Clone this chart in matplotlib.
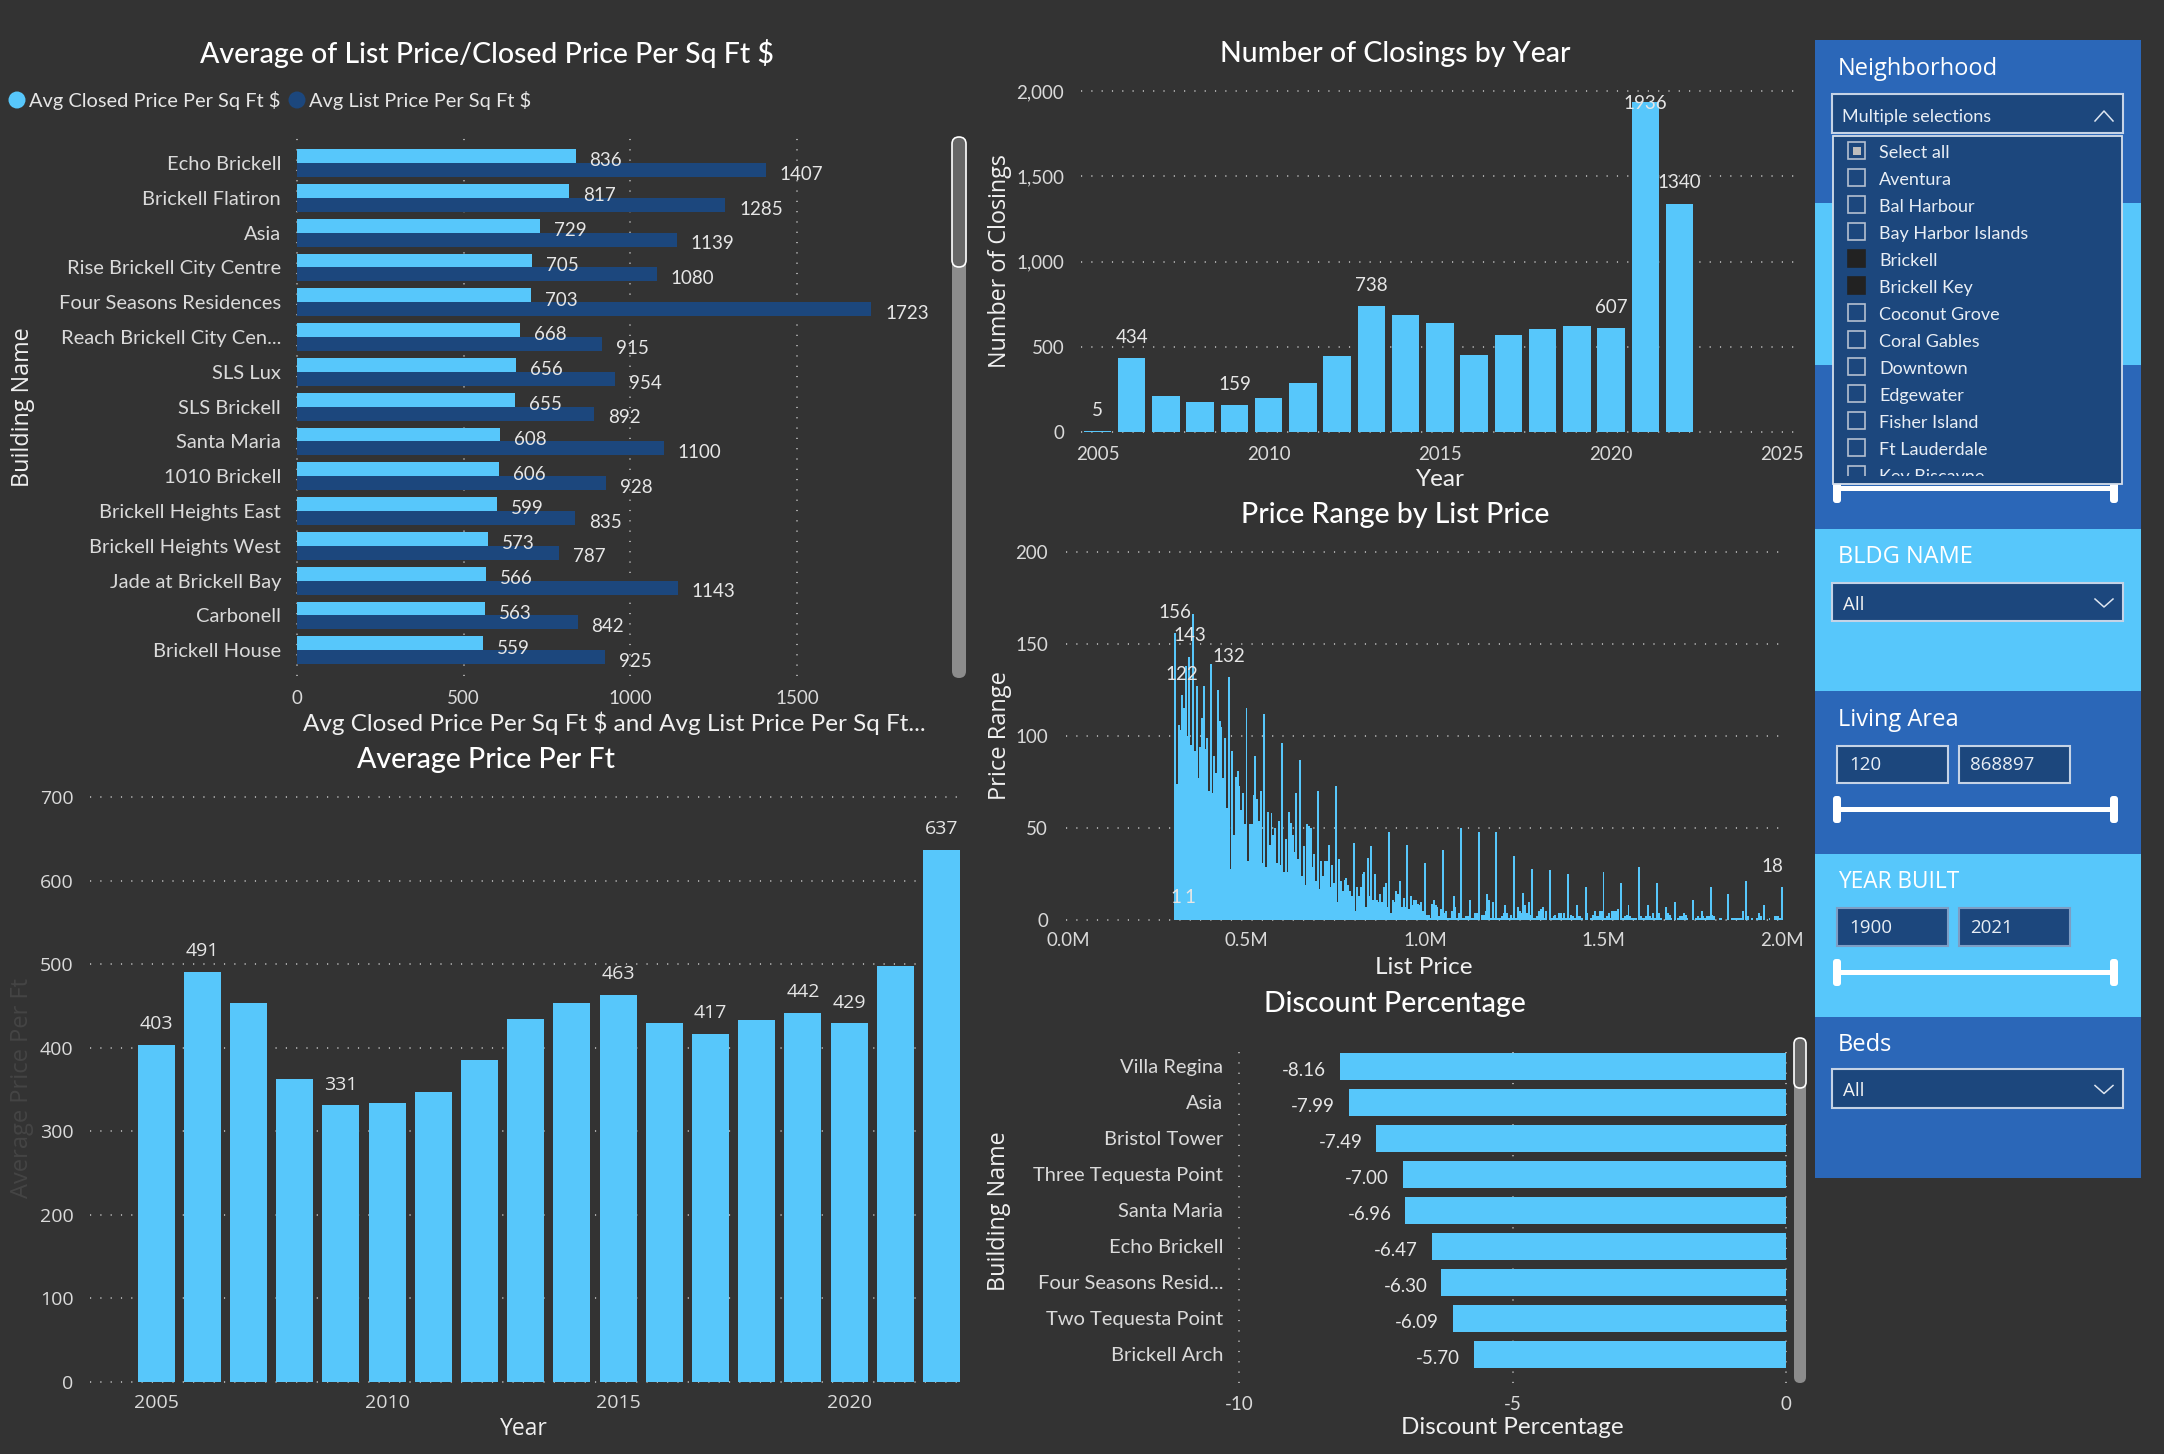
#Real estate dashboard rebuilt with matplotlib
import numpy as np
import matplotlib
matplotlib.use('Agg')
import matplotlib.pyplot as plt
from matplotlib.patches import Rectangle, FancyBboxPatch, Circle

W = 2164
H = 1454

bg = '#333333'
light = '#57C7FB'
navy = '#1C477D'
blue = '#2B67B8'
tickcol = '#DADADA'
labelcol = '#E6E6E6'

#Average of list/closed price per sq ft
buildings = ['Echo Brickell', 'Brickell Flatiron', 'Asia', 'Rise Brickell City Centre',
             'Four Seasons Residences', 'Reach Brickell City Cen...', 'SLS Lux', 'SLS Brickell',
             'Santa Maria', '1010 Brickell', 'Brickell Heights East', 'Brickell Heights West',
             'Jade at Brickell Bay', 'Carbonell', 'Brickell House']
avg_closed = [836, 817, 729, 705, 703, 668, 656, 655, 608, 606, 599, 573, 566, 563, 559]
avg_list = [1407, 1285, 1139, 1080, 1723, 915, 954, 892, 1100, 928, 835, 787, 1143, 842, 925]

#Number of closings by year
years = [2005, 2006, 2007, 2008, 2009, 2010, 2011, 2012, 2013, 2014, 2015, 2016, 2017, 2018, 2019, 2020, 2021, 2022]
closings = [5, 434, 209, 174, 159, 197, 287, 448, 738, 686, 639, 450, 569, 602, 622, 607, 1936, 1340]
closings_labelled = [2005, 2006, 2009, 2013, 2020, 2021, 2022]

#Average price per ft
price_per_ft = [403, 491, 453, 362, 331, 334, 347, 385, 434, 454, 463, 430, 417, 433, 442, 429, 498, 637]
price_labelled = [2005, 2006, 2009, 2015, 2017, 2019, 2020, 2022]

#Price range by list price, one row per 50K, each value a 5K step starting at 300K
hist_counts = [
    156, 74, 106, 103, 122, 115, 138, 100, 143, 95,
    166, 92, 127, 77, 94, 110, 127, 93, 99, 70,
    139, 69, 89, 80, 125, 108, 105, 77, 99, 61,
    132, 28, 92, 46, 78, 81, 73, 60, 69, 52,
    115, 32, 52, 52, 68, 89, 66, 54, 70, 31,
    112, 29, 59, 41, 58, 46, 50, 31, 54, 30,
    96, 26, 44, 26, 59, 53, 46, 37, 69, 33,
    87, 24, 40, 19, 52, 51, 50, 29, 36, 21,
    70, 17, 32, 24, 32, 32, 41, 18, 30, 20,
    73, 10, 33, 21, 16, 22, 23, 19, 16, 13,
    42, 5, 18, 13, 18, 25, 26, 7, 34, 13,
    40, 11, 25, 11, 10, 14, 10, 18, 20, 7,
    48, 4, 11, 10, 16, 14, 21, 7, 12, 7,
    41, 6, 13, 8, 11, 11, 9, 8, 10, 5,
    31, 3, 3, 1, 9, 11, 8, 7, 2, 6,
    38, 4, 5, 1, 1, 5, 13, 7, 1, 4,
    50, 1, 1, 2, 2, 11, 1, 1, 4, 4,
    48, 0, 3, 3, 5, 14, 11, 1, 10, 1,
    48, 1, 1, 2, 4, 8, 4, 1, 3, 1,
    35, 1, 7, 5, 4, 15, 8, 4, 10, 3,
    28, 1, 1, 2, 5, 6, 7, 1, 5, 0,
    27, 1, 2, 3, 1, 4, 4, 1, 4, 1,
    25, 1, 3, 2, 1, 8, 2, 2, 1, 0,
    18, 4, 0, 1, 3, 5, 2, 2, 5, 5,
    26, 1, 2, 4, 1, 5, 5, 5, 6, 0,
    20, 1, 2, 3, 8, 2, 1, 1, 1, 0,
    29, 2, 1, 1, 2, 8, 2, 1, 4, 1,
    20, 4, 1, 0, 0, 7, 4, 3, 1, 0,
    10, 0, 1, 2, 2, 4, 3, 1, 0, 0,
    11, 0, 1, 2, 1, 5, 2, 1, 2, 2,
    18, 3, 2, 0, 0, 1, 1, 0, 0, 0,
    14, 0, 1, 1, 1, 1, 1, 1, 5, 0,
    21, 2, 0, 1, 0, 0, 1, 4, 2, 0,
    8, 0, 0, 1, 0, 0, 2, 2, 2, 1,
    18]
hist_label_prices = [300, 320, 340, 450, 2000, 302, 342]
hist_label_values = [156, 122, 143, 132, 18, 1, 1]

#Discount percentage
discount_names = ['Villa Regina', 'Asia', 'Bristol Tower', 'Three Tequesta Point', 'Santa Maria',
                  'Echo Brickell', 'Four Seasons Resid...', 'Two Tequesta Point', 'Brickell Arch']
discounts = [-8.16, -7.99, -7.49, -7.00, -6.96, -6.47, -6.30, -6.09, -5.70]

#Slicer text
neighborhoods = ['Select all', 'Aventura', 'Bal Harbour', 'Bay Harbor Islands', 'Brickell', 'Brickell Key',
                 'Coconut Grove', 'Coral Gables', 'Downtown', 'Edgewater', 'Fisher Island', 'Ft Lauderdale',
                 'Key Biscayne']
checked = ['Brickell', 'Brickell Key']

chart_font = 'Lato'
wide_font = 'Open Sans'

fig = plt.figure(figsize=(W / 100, H / 100), dpi=100, facecolor=bg)


#makes an axes from a box given in pixels of the picture
def add_ax(left, top, right, bottom):
    ax = fig.add_axes([left / W, 1 - bottom / H, (right - left) / W, (bottom - top) / H])
    ax.set_facecolor('none')
    for s in ax.spines.values():
        s.set_visible(False)
    ax.set_axisbelow(True)
    return ax


def style_ticks(ax, xpad, ypad, font=chart_font, xsize=13.5, ysize=13.5):
    ax.tick_params(axis='x', length=0, pad=xpad, labelcolor=tickcol)
    ax.tick_params(axis='y', length=0, pad=ypad, labelcolor=tickcol)
    for t in ax.get_xticklabels():
        t.set_family(font)
        t.set_fontsize(xsize)
    for t in ax.get_yticklabels():
        t.set_family(font)
        t.set_fontsize(ysize)


def dotted_grid(ax, axis):
    ax.grid(True, axis=axis, color='#A8A8A8', linewidth=1.4, linestyle=(0, (0.6, 4.7)))


##Average of list price / closed price
ax1 = add_ax(295, 137, 957, 676)
y1 = np.arange(len(buildings))
ax1.barh(y1 - 0.2, avg_closed, height=0.4, color=light)
ax1.barh(y1 + 0.2, avg_list, height=0.4, color=navy)
ax1.set_xlim(-6, 1980)
ax1.set_ylim(14.74, -0.75)
ax1.set_xticks([0, 500, 1000, 1500])
ax1.set_yticks(y1)
ax1.set_yticklabels(buildings)
dotted_grid(ax1, 'x')
style_ticks(ax1, 10, 10, ysize=14.5)
for i in range(len(buildings)):
    ax1.annotate(str(avg_closed[i]), (avg_closed[i], y1[i] - 0.2), xytext=(10, -3.5), textcoords='offset points',
                 ha='left', va='center', color=labelcol, family=chart_font, fontsize=13.5)
    ax1.annotate(str(avg_list[i]), (avg_list[i], y1[i] + 0.2), xytext=(10, -3), textcoords='offset points',
                 ha='left', va='center', color=labelcol, family=chart_font, fontsize=13.5)

##Number of closings
ax2 = add_ax(1081, 89, 1795, 434)
ax2.bar(years, closings, width=0.8, color=light)
ax2.set_xlim(2004.52, 2025.37)
ax2.set_ylim(-12, 2012)
ax2.set_xticks([2005, 2010, 2015, 2020, 2025])
ax2.set_yticks([0, 500, 1000, 1500, 2000])
ax2.set_yticklabels(['0', '500', '1,000', '1,500', '2,000'])
dotted_grid(ax2, 'y')
style_ticks(ax2, 9, 12)
for yr in closings_labelled:
    val = closings[years.index(yr)]
    #the tallest label gets pushed back inside the plot
    off = -1 if val > 1900 else 15
    ax2.annotate(str(val), (yr, val), xytext=(0, off), textcoords='offset points', ha='center', va='center',
                 color=labelcol, family=chart_font, fontsize=13.5)

##Average price per ft
ax3 = add_ax(90, 795, 960, 1384)
ax3.bar(years, price_per_ft, width=0.8, color=light)
ax3.set_xlim(2003.57, 2022.4)
ax3.set_ylim(-2.4, 702.4)
ax3.set_xticks([2005, 2010, 2015, 2020])
ax3.set_yticks([0, 100, 200, 300, 400, 500, 600, 700])
dotted_grid(ax3, 'y')
style_ticks(ax3, 7, 12, wide_font, 14, 14)
for yr in price_labelled:
    val = price_per_ft[years.index(yr)]
    ax3.annotate(str(val), (yr, val), xytext=(0, 15), textcoords='offset points', ha='center', va='center',
                 color=labelcol, family=wide_font, fontsize=14)

##Price range by list price
ax4 = add_ax(1066, 550, 1783, 922)
hist_prices = (300 + 5 * np.arange(len(hist_counts))) / 1000
ax4.bar(hist_prices, hist_counts, width=0.0055, color=light, linewidth=0)
ax4.set_xlim(-0.0056, 2.0028)
ax4.set_ylim(-1, 201)
ax4.set_xticks([0, 0.5, 1.0, 1.5, 2.0])
ax4.set_xticklabels(['0.0M', '0.5M', '1.0M', '1.5M', '2.0M'])
ax4.set_yticks([0, 50, 100, 150, 200])
dotted_grid(ax4, 'y')
style_ticks(ax4, 7, 13)
for p, val in zip(hist_label_prices, hist_label_values):
    dx = -7 if p == 2000 else 0
    ax4.annotate(str(val), (p / 1000, val), xytext=(dx, 15), textcoords='offset points', ha='center', va='center',
                 color=labelcol, family=chart_font, fontsize=13.5)

##Discount percentage
ax5 = add_ax(1237, 1047, 1788, 1383)
y5 = np.arange(len(discount_names))
ax5.barh(y5, discounts, height=0.75, color=light)
ax5.set_xlim(-10.037, 0.037)
ax5.set_ylim(8.805, -0.528)
ax5.set_xticks([-10, -5, 0])
ax5.set_xticklabels(['-10', '-5', '0'])
ax5.set_yticks(y5)
ax5.set_yticklabels(discount_names)
dotted_grid(ax5, 'x')
style_ticks(ax5, 9, 10, ysize=14.5)
for i in range(len(discounts)):
    ax5.annotate('%.2f' % discounts[i], (discounts[i], y5[i]), xytext=(-10, -3), textcoords='offset points',
                 ha='right', va='center', color=labelcol, family=chart_font, fontsize=13.5)

##Everything else is laid out in picture pixels on one overlay
ui = fig.add_axes([0, 0, 1, 1])
ui.set_xlim(0, W)
ui.set_ylim(H, 0)
ui.axis('off')
ui.set_facecolor('none')


def title(x, y, s):
    ui.text(x, y, s, color='white', family=chart_font, fontsize=20.5, fontweight='medium', ha='center', va='center')


def axis_label(x, y, s, rot=0, col='#F0F0F0', font=chart_font, size=17.5):
    ui.text(x, y, s, color=col, family=font, fontsize=size, rotation=rot, ha='center', va='center')


title(487, 53, 'Average of List Price/Closed Price Per Sq Ft $')
title(1395, 54, 'Number of Closings by Year')
title(1395, 515, 'Price Range by List Price')
title(486, 760, 'Average Price Per Ft')
title(1395, 1004, 'Discount Percentage')

axis_label(23, 407, 'Building Name', 90, font=wide_font, size=16.8)
axis_label(614, 723, 'Avg Closed Price Per Sq Ft $ and Avg List Price Per Sq Ft...')
axis_label(1000, 261, 'Number of Closings', 90, font=wide_font, size=16.8)
axis_label(1440, 480, 'Year')
axis_label(1000, 736, 'Price Range', 90, font=wide_font, size=17)
axis_label(1424, 967, 'List Price')
axis_label(22, 1088, 'Average Price Per Ft', 90, col='#454545', font=wide_font, size=17)
axis_label(524, 1429, 'Year', font=wide_font, size=16.5)
axis_label(999, 1211, 'Building Name', 90, font=wide_font, size=16.8)
axis_label(1512, 1428, 'Discount Percentage')

#legend
ui.add_patch(Circle((17, 100), 8.5, color=light, lw=0))
ui.text(29, 101, 'Avg Closed Price Per Sq Ft $', color=labelcol, family=chart_font, fontsize=14.4, va='center')
ui.add_patch(Circle((297, 100), 8.5, color=navy, lw=0))
ui.text(309, 101, 'Avg List Price Per Sq Ft $', color=labelcol, family=chart_font, fontsize=14.4, va='center')


def scrollbar(x0, x1, y0, y1, thumb):
    r = (x1 - x0) / 2
    ui.add_patch(FancyBboxPatch((x0 + r, y0 + r), 0.01, y1 - y0 - 2 * r, boxstyle='round,pad=%f' % r,
                                fc='#8C8C8C', ec='none'))
    ui.add_patch(FancyBboxPatch((x0 + r, y0 + r), 0.01, thumb - y0 - 2 * r, boxstyle='round,pad=%f' % r,
                                fc='#666666', ec='white', lw=1.2))


scrollbar(952, 966, 137, 678, 267)
scrollbar(1794, 1806, 1038, 1383, 1088)

#slicer backgrounds
sections = [(40, 203, blue), (203, 365, light), (365, 529, blue), (529, 691, light),
            (691, 854, blue), (854, 1017, light), (1017, 1178, blue)]
for top, bottom, col in sections:
    ui.add_patch(Rectangle((1815, top), 2141 - 1815, bottom - top, fc=col, ec='none'))


def slicer_title(y, s, size=17):
    ui.text(1838, y, s, color='white', family=wide_font, fontsize=size, va='center')


def box(x0, y0, x1, y1, edge='#C5D3E6'):
    ui.add_patch(Rectangle((x0, y0), x1 - x0, y1 - y0, fc=navy, ec=edge, lw=1.5))


def chevron(y_mid, up=False):
    d = -5 if up else 4
    ui.plot([2095, 2104, 2113], [y_mid - d, y_mid + d, y_mid - d], color='#DDE5F0', lw=1.1)


def slider(y, top, bottom):
    ui.add_patch(Rectangle((1837, y - 2.5), 2114 - 1837, 5, fc='white', ec='none'))
    for x in [1837, 2114]:
        ui.add_patch(FancyBboxPatch((x - 1, top + 3), 2, bottom - top - 6, boxstyle='round,pad=3', fc='white', ec='none'))


def dropdown(title_y, s, y0, y1):
    slicer_title(title_y, s)
    box(1832, y0, 2123, y1)
    ui.text(1843, (y0 + y1) / 2 + 3, 'All', color='#F2F2F2', family=wide_font, fontsize=13.5, va='center')
    chevron((y0 + y1) / 2 + 1)


def range_boxes(title_y, s, low, high, y0, y1, slide_y, edge, size=17):
    slicer_title(title_y, s, size)
    box(1837, y0, 1948, y1, edge)
    box(1959, y0, 2070, y1, edge)
    ui.text(1849, (y0 + y1) / 2 + 1, low, color='#E8EEF5', family=wide_font, fontsize=13.5, va='center')
    ui.text(1970, (y0 + y1) / 2 + 1, high, color='#E8EEF5', family=wide_font, fontsize=13.5, va='center')
    slider(slide_y, slide_y - 13, slide_y + 14)


#neighborhood slicer with its list open
slicer_title(69, 'Neighborhood')
slider(488, 470, 503)
box(1832, 94, 2123, 133)
ui.text(1842, 117, 'Multiple selections', color='#E8EEF5', family=chart_font, fontsize=13, va='center')
chevron(116, up=True)
list_box = Rectangle((1833, 136), 2122 - 1833, 484 - 136, fc=navy, ec='#D5DEEA', lw=1.3)
ui.add_patch(list_box)
clip = Rectangle((1833, 136), 2122 - 1833, 476 - 136, transform=ui.transData)
for i, name in enumerate(neighborhoods):
    row = 151 + 27 * i
    fill = '#222222' if name in checked else 'none'
    edge = '#222222' if name in checked else '#B4C0D0'
    b = Rectangle((1848, row - 9), 17, 17, fc=fill, ec=edge, lw=1.2)
    ui.add_patch(b)
    b.set_clip_path(clip)
    t = ui.text(1879, row + 2, name, color='#E8EEF5', family=chart_font, fontsize=13, va='center')
    t.set_clip_path(clip)
    t.set_clip_on(True)
ui.add_patch(Rectangle((1853, 147), 8, 8, fc='#BDBDBD', ec='none'))

dropdown(557, 'BLDG NAME', 583, 621)
range_boxes(720, 'Living Area', '120', '868897', 746, 783, 809, '#C5D3E6')
range_boxes(882, 'YEAR BUILT', '1900', '2021', 908, 946, 972, '#7D9DC4', 16.3)
dropdown(1045, 'Beds', 1069, 1108)

plt.savefig('out.png', dpi=100, facecolor=bg)
plt.close()
